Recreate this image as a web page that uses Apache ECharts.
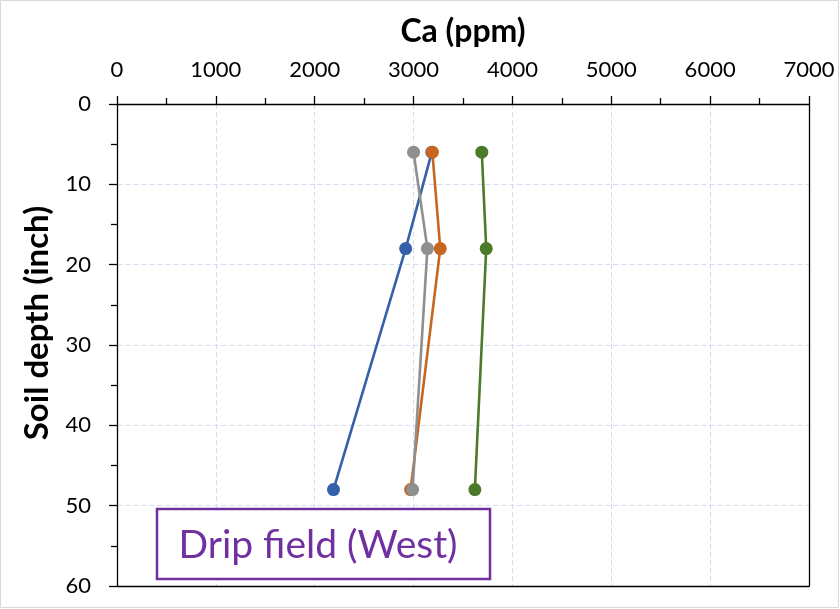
<!DOCTYPE html>
<html>
<head>
<meta charset="utf-8">
<script src="https://cdn.jsdelivr.net/npm/echarts@6/dist/echarts.min.js"></script>
<style>html,body{margin:0;padding:0;background:#fff;}#c{width:840px;height:609px;}</style>
</head>
<body>
<div id="c"></div>
<script>
var depths = [6, 18, 48];
var blueCa = [3185, 2920, 2190];
var orangeCa = [3190, 3270, 2970];
var grayCa = [3000, 3140, 2990];
var greenCa = [3690, 3735, 3620];
var xTicks = [0, 1000, 2000, 3000, 4000, 5000, 6000, 7000];
var yTicks = [0, 10, 20, 30, 40, 50, 60];

function pairs(vals) { return vals.map(function (v, i) { return [v, depths[i]]; }); }
function mk(name, vals, color) {
  return {
    name: name, type: 'line', data: pairs(vals),
    symbol: 'circle', symbolSize: 13,
    lineStyle: { color: color, width: 2.6 },
    itemStyle: { color: color },
    emphasis: { disabled: true }
  };
}
var font = 'Lato, "Open Sans", sans-serif';
var axisLineStyle = { color: '#000', width: 1.3 };
var gridLine = { show: true, lineStyle: { color: '#D3DDEF', type: [5, 3], width: 1 } };
var chart = echarts.init(document.getElementById('c'));
chart.setOption({
  animation: false,
  grid: { left: 117, top: 104, right: 31, bottom: 23, containLabel: false, outerBoundsMode: 'none' },
  xAxis: [{
    type: 'value', position: 'top', min: xTicks[0], max: xTicks[xTicks.length - 1], interval: 1000,
    name: 'Ca (ppm)', nameLocation: 'middle', nameGap: 56, nameMoveOverlap: false,
    nameTextStyle: { fontFamily: font, fontSize: 32, fontWeight: 'bold', color: '#000' },
    axisLine: { show: true, lineStyle: axisLineStyle },
    axisTick: { show: true, length: 8, lineStyle: axisLineStyle },
    minorTick: { show: true, splitNumber: 2, length: 6, lineStyle: axisLineStyle },
    axisLabel: { fontFamily: font, fontSize: 22, color: '#000', margin: 23, formatter: function (v) { return String(v); } },
    splitLine: gridLine
  }, {
    type: 'value', position: 'bottom', min: xTicks[0], max: xTicks[xTicks.length - 1],
    axisLine: { show: true, onZero: false, lineStyle: axisLineStyle },
    axisTick: { show: false }, axisLabel: { show: false }, splitLine: { show: false }
  }],
  yAxis: [{
    type: 'value', inverse: true, min: yTicks[0], max: yTicks[yTicks.length - 1], interval: 10,
    axisLine: { show: true, lineStyle: axisLineStyle },
    axisTick: { show: true, length: 8, lineStyle: axisLineStyle },
    minorTick: { show: true, splitNumber: 2, length: 6, lineStyle: axisLineStyle },
    axisLabel: { fontFamily: font, fontSize: 22, color: '#000', margin: 26 },
    splitLine: gridLine
  }, {
    type: 'value', position: 'right', inverse: true, min: yTicks[0], max: yTicks[yTicks.length - 1],
    axisLine: { show: true, onZero: false, lineStyle: axisLineStyle },
    axisTick: { show: false }, axisLabel: { show: false }, splitLine: { show: false }
  }],
  series: [
    mk('Blue', blueCa, '#3360A9'),
    mk('Orange', orangeCa, '#C8651F'),
    mk('Gray', grayCa, '#8F8F8F'),
    mk('Green', greenCa, '#4B7A2A')
  ],
  graphic: [
    { type: 'rect', shape: { x: 0.5, y: 0.5, width: 838, height: 607 }, style: { fill: 'none', stroke: '#D9D9D9', lineWidth: 1 }, silent: true },
    { type: 'text', x: 37, y: 323, rotation: Math.PI / 2,
      style: { text: 'Soil depth (inch)', fontFamily: font, fontSize: 33, fontWeight: 'bold', fill: '#000', align: 'center', verticalAlign: 'middle' } },
    { type: 'rect', shape: { x: 157, y: 509, width: 333, height: 70 }, style: { fill: '#fff', stroke: '#7030A0', lineWidth: 2.5 }, z: 100 },
    { type: 'text', x: 318, y: 545, z: 101,
      style: { text: 'Drip field (West)', fontFamily: font, fontSize: 39, fill: '#7030A0', align: 'center', verticalAlign: 'middle' } }
  ]
});
</script>
</body>
</html>
